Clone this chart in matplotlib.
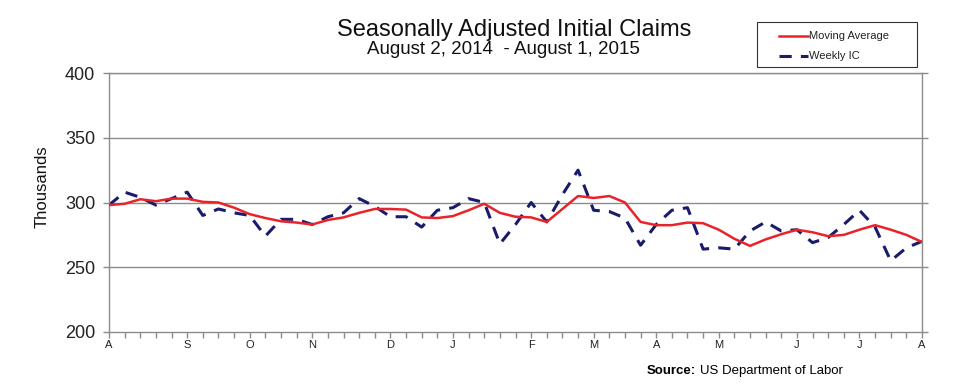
import numpy as np
import pandas as pd
import matplotlib
matplotlib.use('Agg')
import matplotlib.pyplot as plt
from matplotlib.lines import Line2D
from matplotlib.patches import Rectangle

plt.rcParams['font.family'] = ['Liberation Sans', 'DejaVu Sans']

# weekly data, Aug 2 2014 .. Aug 1 2015 (thousands)
week_start = '2014-08-02'
week_end = '2015-08-01'

weekly_ic = [298, 308, 304, 298, 303, 308, 290, 295, 292, 290,
             274, 287, 287, 283, 289, 292, 303, 297, 289, 289,
             281, 294, 296, 303, 300, 268, 283, 300, 285, 306,
             325, 294, 293, 288, 267, 283, 294, 296, 264, 265,
             264, 278, 285, 278, 279, 269, 273, 283, 294, 281,
             255, 265, 270]

moving_avg = [298, 299, 302.5, 301, 303, 303, 300.5, 300, 296, 291,
              288, 285.5, 284.5, 283, 286.5, 288.5, 292, 295, 295, 294.5,
              288.5, 288, 289.5, 294, 299, 292, 289, 288.5, 285, 295,
              305, 303.5, 305, 300, 285, 282.5, 282.5, 284.5, 284, 279,
              272, 266.5, 271.5, 275.5, 279, 277, 274, 275, 279, 282.5,
              279, 275, 269.5]

y_ticks = [200, 250, 300, 350, 400]

dates = pd.date_range(week_start, week_end, freq='7D')
x = np.arange(len(dates))

# month label at first week of each month
month_pos = [i for i in range(len(dates)) if i == 0 or dates[i].month != dates[i - 1].month]
month_lab = [dates[i].strftime('%b')[0] for i in month_pos]

W, H = 963, 388
fig = plt.figure(figsize=(W / 100, H / 100), dpi=100)
ax = fig.add_axes([109 / W, 1 - 332 / H, 813 / W, 259 / H])

grey = '#8c8c8c'
red = '#e8242a'
navy = '#1b1b6b'
dash = (4, 3)

for v in y_ticks[1:]:
    ax.axhline(v, color=grey, lw=1.0, zorder=1)

ax.plot(x, moving_avg, color=red, lw=1.8, zorder=3)
ax.plot(x, weekly_ic, color=navy, lw=2.2, dashes=dash, zorder=2)

ax.set_xlim(0, len(dates) - 1)
ax.set_ylim(200, 400)
ax.set_yticks(y_ticks)
ax.set_xticks(x, minor=True)
ax.set_xticks(month_pos)
ax.set_xticklabels(month_lab)

for s in ax.spines.values():
    s.set_color(grey)
    s.set_linewidth(1.0)

ax.tick_params(axis='y', labelsize=13, colors=grey, labelcolor='#222222',
               length=4, width=1, pad=6, right=True)
ax.tick_params(axis='x', which='both', colors=grey, labelcolor='#222222',
               length=4, width=1, labelsize=8, pad=2)

fig.text(42 / W, 1 - 187 / H, 'Thousands', fontsize=12, rotation=90,
         ha='center', va='center', color='#111111')

fig.text(514 / W, 1 - 30 / H, 'Seasonally Adjusted Initial Claims', fontsize=17,
         ha='center', va='center', color='#111111')
fig.text(503 / W, 1 - 50 / H, 'August 2, 2014  - August 1, 2015', fontsize=13.5,
         ha='center', va='center', color='#111111')

# legend box
fig.add_artist(Rectangle((757 / W, 1 - 67 / H), 160 / W, 45 / H, transform=fig.transFigure,
                         facecolor='white', edgecolor='#333333', lw=0.8))
legend_items = [('Moving Average', red, None, 1.8, 36), ('Weekly IC', navy, dash, 2.2, 56)]
for lab, col, ds, lw, yp in legend_items:
    ln = Line2D([779 / W, 808 / W], [1 - yp / H, 1 - yp / H], transform=fig.transFigure,
                color=col, lw=lw)
    if ds:
        ln.set_dashes(ds)
    fig.add_artist(ln)
    fig.text(809 / W, 1 - yp / H, lab, fontsize=8, ha='left', va='center', color='#222222')

src = fig.text(647 / W, 1 - 371 / H, 'Source:', fontsize=9.5, fontweight='bold',
               ha='left', va='center')
ax.annotate('US Department of Labor', xy=(1, 0.5), xycoords=src, xytext=(3, 0),
            textcoords='offset points', fontsize=9.5, ha='left', va='center',
            annotation_clip=False)

fig.savefig('out.png', dpi=100)
